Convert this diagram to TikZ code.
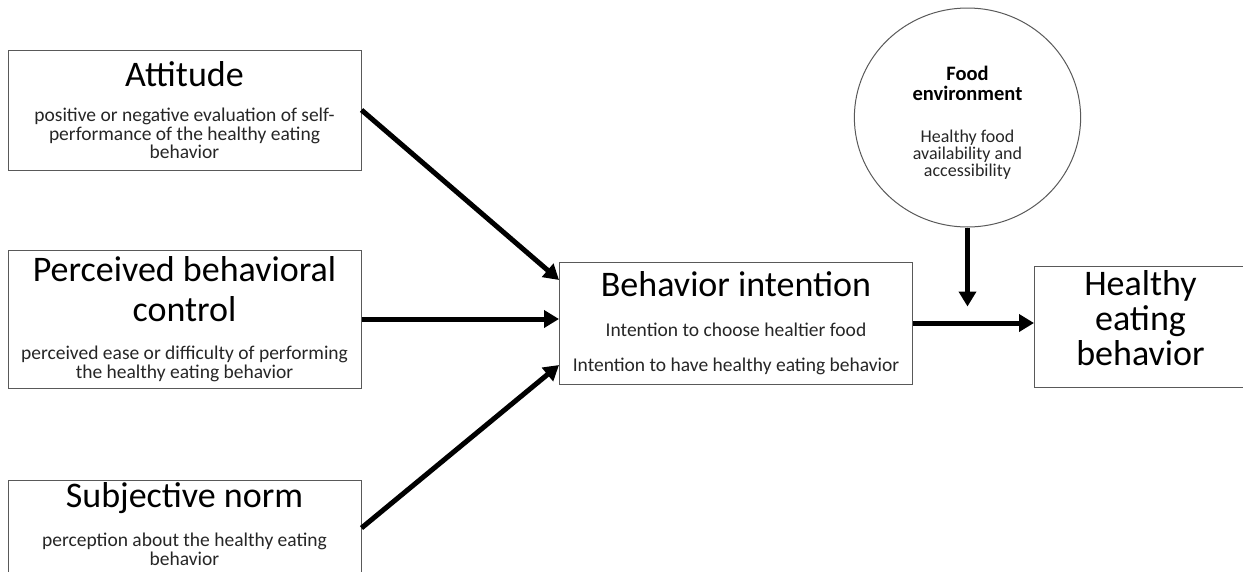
\documentclass[tikz,border=0pt]{standalone}
\usepackage{fontspec}
\setmainfont{Carlito}
\usepackage{xcolor}
\usepackage{tikz}
\usetikzlibrary{shapes.geometric, arrows.meta, positioning}
\definecolor{boxgray}{RGB}{89, 89, 89}
\definecolor{notegray}{RGB}{38, 38, 38}
\newcommand{\headfont}{\fontsize{36}{40}\selectfont}
\newcommand{\notefont}{\fontsize{19.5}{18.5}\selectfont\color{notegray}}

\begin{document}
\begin{tikzpicture}[
    x=1pt, y=-1pt,
    factor/.style={rectangle, draw=boxgray, line width=1pt, text width=340pt, inner xsep=6.5pt, inner ysep=0pt, align=flush center, minimum height=#1},
    envcircle/.style={ellipse, draw=boxgray, line width=1pt, minimum width=209pt, minimum height=219pt, inner sep=0pt, text width=160pt, align=flush center},
    arrow/.style={-{Triangle[length=15pt, width=17pt]}, line width=5pt}
]
\clip (0,0) rectangle (1243,571);

% Determinants
\node[factor=120pt] (attitude) at (184.5,110) {{\headfont Attitude\par}\vspace{17pt}{\notefont positive or negative evaluation of self-\\performance of the healthy eating\\behavior\par}};
\node[factor=138pt, below=79pt of attitude] (control) {{\headfont Perceived behavioral\\control\par}\vspace{20pt}{\notefont perceived ease or difficulty of performing\\the healthy eating behavior\par}};
\node[factor=96pt, below=91pt of control] (norm) {{\headfont Subjective norm\par}\vspace{18pt}{\notefont perception about the healthy eating\\behavior\rule[-8pt]{0pt}{8pt}\par}};

% Intention and behavior
\node[factor=122pt] (intention) at (736,323) {{\headfont Behavior intention\par}\vspace{21.5pt}{\notefont Intention to choose healtier food\par}\vspace{16.5pt}{\notefont Intention to have healthy eating behavior\par}};
\node[factor=121pt, text width=199pt, right=121pt of intention, yshift=-3.5pt] (eating) {{\headfont\baselineskip=35pt Healthy\\eating\\behavior\rule[-18pt]{0pt}{18pt}\par}};

% Food environment
\node[envcircle] (food) at (967.5,117.5) {{\fontsize{20.5}{20.7}\selectfont\bfseries\rule{0pt}{25pt}Food\\environment\par}\vspace{24pt}{\fontsize{18}{17.3}\selectfont\color{notegray}Healthy food\\availability and\\accessibility\par}};
\coordinate[below=79pt of food.south] (merge);

% Arrows
\draw[arrow] (attitude.east) -- ([yshift=43pt]intention.west);
\draw[arrow] (control.east) -- (control.east -| intention.west);
\draw[arrow] (norm.east) -- ([yshift=-42pt]intention.west);
\draw[arrow] (intention.east) -- (intention.east -| eating.west);
\draw[arrow] (food.south) -- (merge);

\end{tikzpicture}
\end{document}
